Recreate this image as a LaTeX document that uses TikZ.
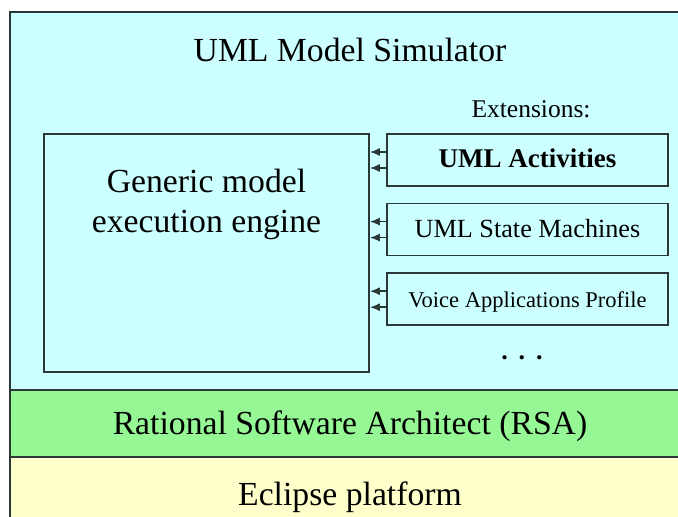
\documentclass[tikz,border=0pt]{standalone}
\usepackage{fontspec}
\setmainfont{Liberation Serif}
\usetikzlibrary{arrows.meta,positioning}
\definecolor{simcolor}{HTML}{CCFFFF}
\definecolor{rsacolor}{HTML}{95F895}
\definecolor{eclcolor}{HTML}{FFFFCC}
\definecolor{edgecolor}{HTML}{2B3838}

\begin{document}
\begin{tikzpicture}[
  x=0.5pt, y=-0.5pt,
  layer/.style={draw=edgecolor, line width=0.8pt, minimum width=340pt, inner sep=0pt, font=\fontsize{16.85}{20}\selectfont, text height=11pt, text depth=0pt},
  ext/.style={draw=edgecolor, line width=0.8pt, minimum width=140.5pt, minimum height=26pt, inner sep=0pt, text height=8pt, text depth=0pt},
  arr/.style={-{Latex[length=5pt,width=4pt]}, line width=0.8pt, draw=edgecolor},
  node distance=8pt
]
  \useasboundingbox (0,0) rectangle (678,517);
  \clip (0,0) rectangle (678,517);

  % layers
  \node[layer, fill=simcolor, minimum height=189pt] (sim) at (350,201) {};
  \node[layer, fill=rsacolor, minimum height=33.5pt] (rsa) at (350,423.5) {Rational Software Architect (RSA)};
  \node[layer, fill=eclcolor, minimum height=37pt] (ecl) at (350,494) {Eclipse platform};
  \node[font=\fontsize{16.85}{20}\selectfont, anchor=base] (title) at (350,62) {UML Model Simulator};

  % engine
  \node[draw=edgecolor, line width=0.8pt, minimum width=162.5pt, minimum height=119pt] (engine) at (206.5,253) {};
  \node[anchor=north, align=center, inner sep=0pt, font=\fontsize{16.85}{20}\selectfont] (enginetxt) at (206.5,169) {Generic model\\execution engine};

  % extensions
  \node[font=\fontsize{12.75}{15}\selectfont, anchor=base] (extlbl) at (531,118) {Extensions:};
  \node[ext, font=\fontsize{13.5}{16}\selectfont\bfseries] (act) at (527.5,160) {UML Activities};
  \node[ext, below=of act, font=\fontsize{13.1}{16}\selectfont] (stm) {UML State Machines};
  \node[ext, below=of stm, font=\fontsize{11.25}{14}\selectfont] (voice) {Voice Applications Profile};
  \node[font=\fontsize{13}{16}\selectfont\bfseries, anchor=base] (more) at (522,359) {.\ \,.\ \,.};

  \foreach \ext in {act,stm,voice}
    \foreach \dy in {-4pt,4pt}
      \draw[arr] ([yshift=\dy]\ext.west) -- ([yshift=\dy]\ext.west -| engine.east);
\end{tikzpicture}
\end{document}
